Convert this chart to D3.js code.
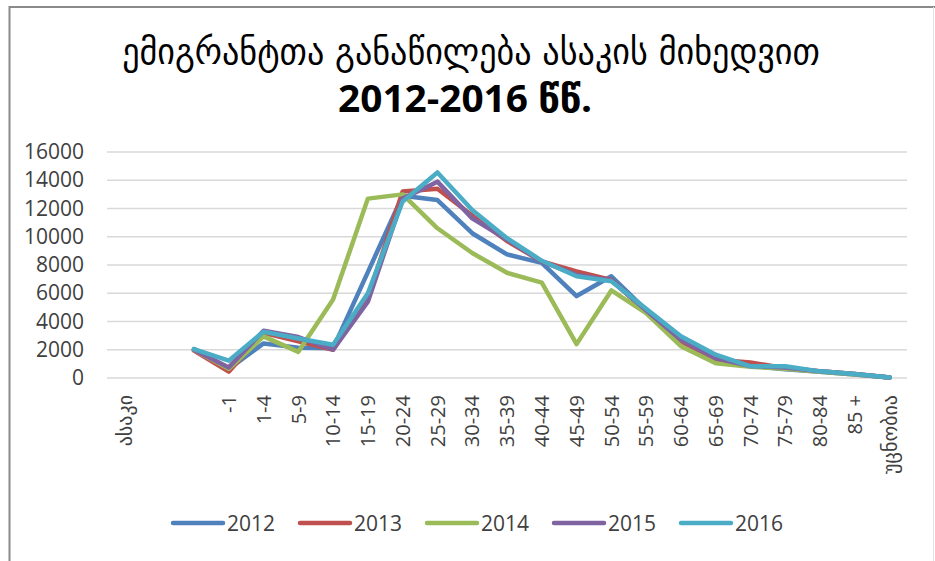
<!DOCTYPE html>
<html>
<head>
<meta charset="utf-8">
<script src="https://cdn.jsdelivr.net/npm/d3@7"></script>
<style>
body { margin: 0; background: #fff; }
svg text { font-family: "Open Sans", "DejaVu Sans", sans-serif; fill: #404040; }
</style>
</head>
<body>
<svg id="chart" width="935" height="561"></svg>
<script>
// age groups, first one is the column header, two blank rows follow
var categories = ["ასაკი", "", "", "-1", "1-4", "5-9", "10-14", "15-19", "20-24", "25-29", "30-34", "35-39",
	"40-44", "45-49", "50-54", "55-59", "60-64", "65-69", "70-74", "75-79", "80-84", "85 +", "უცნობია"];
var years = ["2012", "2013", "2014", "2015", "2016"];
var colors = ["#4F81BD", "#C0504D", "#9BBB59", "#8064A2", "#4BACC6"];
var yTicks = [0, 2000, 4000, 6000, 8000, 10000, 12000, 14000, 16000];

// values start at the third category
var v2012 = [null, null, 2050, 650, 2450, 2150, 2100, 7500, 12900, 12600, 10250, 8750, 8150, 5800, 7200, 4800, 2700, 1500, 870, 620, 450, 250, 30];
var v2013 = [null, null, 1950, 450, 3200, 2600, 2000, 5700, 13200, 13400, 11500, 9700, 8250, 7550, 6950, 4700, 2600, 1300, 1100, 700, 480, 280, 30];
var v2014 = [null, null, 2000, 650, 2950, 1850, 5550, 12700, 13000, 10600, 8850, 7450, 6750, 2400, 6200, 4600, 2250, 1050, 800, 650, 450, 250, 30];
var v2015 = [null, null, 2000, 750, 3350, 2900, 2000, 5400, 12700, 13900, 11300, 9800, 8250, 7300, 6900, 4800, 2700, 1400, 850, 750, 470, 280, 30];
var v2016 = [null, null, 2050, 1230, 3280, 2800, 2350, 6000, 12500, 14550, 11900, 9900, 8300, 7200, 6850, 4900, 2950, 1650, 830, 830, 470, 280, 30];
var series = [v2012, v2013, v2014, v2015, v2016];

var chart = {};
chart.left = 107;
chart.right = 907;
chart.top = 152;
chart.bottom = 378;

var svg = d3.select("#chart");

// frame
svg.append("line").attr("x1", 9.5).attr("y1", 6).attr("x2", 9.5).attr("y2", 561)
	.style("stroke", "#8a8a8a").style("stroke-width", 2);
svg.append("line").attr("x1", 9).attr("y1", 7).attr("x2", 935).attr("y2", 7)
	.style("stroke", "#8a8a8a").style("stroke-width", 2);
svg.append("line").attr("x1", 933.5).attr("y1", 7).attr("x2", 933.5).attr("y2", 561)
	.style("stroke", "#e3e3e3").style("stroke-width", 1);

var x = d3.scaleBand()
	.domain(d3.range(categories.length))
	.range([chart.left, chart.right]);

var y = d3.scaleLinear()
	.domain([0, 16000])
	.range([chart.bottom, chart.top]);

var cx = function(i){ return x(i) + x.bandwidth() / 2; };

// gridlines
svg.append("g").selectAll("line").data(yTicks).enter().append("line")
	.attr("x1", chart.left).attr("x2", chart.right)
	.attr("y1", function(d){ return y(d); })
	.attr("y2", function(d){ return y(d); })
	.style("stroke", "#d9d9d9").style("stroke-width", 1.5);

// y axis labels
var yAxis = svg.append("g")
	.attr("transform", "translate(" + (chart.left - 23) + ",0)")
	.call(d3.axisLeft(y).tickValues(yTicks).tickFormat(d3.format("d")).tickSize(0).tickPadding(0));
yAxis.select(".domain").remove();
yAxis.selectAll("text").style("font-size", "21px").style("fill", "#404040")
	.style("font-family", "'Open Sans', sans-serif");

// x axis labels, rotated
var xAxis = svg.append("g")
	.attr("transform", "translate(0," + chart.bottom + ")")
	.call(d3.axisBottom(x).tickFormat(function(i){ return categories[i]; }).tickSize(0));
xAxis.select(".domain").remove();
xAxis.selectAll("text")
	.style("font-size", "20px")
	.style("fill", "#404040")
	.style("font-family", "'Open Sans', 'DejaVu Sans', sans-serif")
	.attr("text-anchor", "end")
	.attr("transform", "rotate(-90)")
	.attr("x", -17)
	.attr("y", 0)
	.attr("dy", "0.36em");

// lines
var line = d3.line()
	.defined(function(d){ return d != null; })
	.x(function(d, i){ return cx(i); })
	.y(function(d){ return y(d); });

svg.append("g").selectAll("path").data(series).enter().append("path")
	.attr("d", line)
	.style("fill", "none")
	.style("stroke", function(d, i){ return colors[i]; })
	.style("stroke-width", 4.5)
	.style("stroke-linejoin", "round")
	.style("stroke-linecap", "round");

// legend
var legend = svg.append("g").attr("transform", "translate(171,523)");
var item = legend.selectAll("g").data(years).enter().append("g")
	.attr("transform", function(d, i){ return "translate(" + (i * 127) + ",0)"; });
item.append("line")
	.attr("x1", 2).attr("x2", 52).attr("y1", 0).attr("y2", 0)
	.style("stroke", function(d, i){ return colors[i]; })
	.style("stroke-width", 4.5)
	.style("stroke-linecap", "round");
item.append("text")
	.attr("x", 56).attr("y", 0).attr("dy", "0.36em")
	.style("font-size", "21px")
	.text(function(d){ return d; });

// title, squeezed to the width of the original
var fitText = function(sel, cxPos, width){
	var w = sel.node().getComputedTextLength();
	var k = width / w;
	sel.attr("transform", "translate(" + cxPos + ",0) scale(" + k + ",1)");
};
var t1 = svg.append("text")
	.attr("x", 0).attr("y", 64)
	.attr("text-anchor", "middle")
	.style("font-family", "'DejaVu Sans', sans-serif")
	.style("font-size", "36px")
	.style("fill", "#000")
	.text("ემიგრანტთა განაწილება ასაკის მიხედვით");
fitText(t1, 471, 698);
var t2 = svg.append("text")
	.attr("x", 0).attr("y", 112)
	.attr("text-anchor", "middle")
	.style("font-family", "'Open Sans', 'DejaVu Sans', sans-serif")
	.style("font-weight", "bold")
	.style("font-size", "37px")
	.style("fill", "#000")
	.text("2012-2016 წწ.");
fitText(t2, 465, 254);
</script>
</body>
</html>
